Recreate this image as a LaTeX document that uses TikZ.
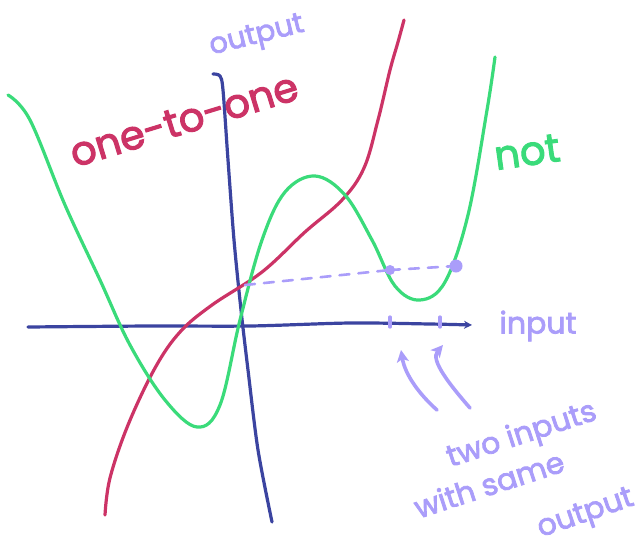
\documentclass[tikz,border=0pt]{standalone}
\usepackage{fontspec}
\setmainfont{Poppins}
\newfontfamily\handfont{Poppins}[FakeBold=2.6]
\usetikzlibrary{arrows.meta}
\definecolor{axisblue}{HTML}{3B44A0}
\definecolor{oneone}{HTML}{CC3366}
\definecolor{notgreen}{HTML}{3ADB7A}
\definecolor{lav}{HTML}{AA9DFA}
\tikzset{
  axisline/.style={axisblue,line width=3.2pt,line cap=round,line join=round},
  redcurve/.style={oneone,line width=3.2pt,line cap=round},
  greencurve/.style={notgreen,line width=3.2pt,line cap=round},
  lavline/.style={lav,line width=3.2pt,line cap=round},
  lavtext/.style={lav,font=\handfont\fontsize{30}{34}\selectfont,inner sep=0pt},
}
\begin{document}
\begin{tikzpicture}[x=1pt,y=-1pt]
\useasboundingbox[fill=white] (0,0) rectangle (642,550);
% x-axis
\draw[axisline,-{Stealth[length=8pt,width=8pt]}] plot[smooth] coordinates {(28,327) (150,326) (250,326) (350,323) (430,324) (472,325)};
% y-axis
\draw[axisline] plot[smooth] coordinates {(213,74) (220,76) (223,90) (228,160) (234,240) (241,310) (248,370) (258,450) (272,522)};
% red curve
\draw[redcurve] plot[smooth,tension=0.6] coordinates {(105,515) (110,478) (128,425) (155,368) (180,332) (212,305) (262,272) (305,232) (342,200) (364,168) (378,120) (390,70) (398,42) (404,20)};
% green curve
\draw[greencurve] plot[smooth,tension=0.6] coordinates {(8,95) (30,120) (65,205) (100,280) (130,345) (165,400) (197,427) (220,405) (240,320) (262,240) (285,192) (315,176) (345,195) (372,240) (395,286) (420,300) (445,282) (468,215) (487,110) (495,57)};
% dashed line and dots
\draw[lavline,line width=2.6pt,dash pattern=on 10pt off 9pt] (245,285) -- (390,270);
\draw[lavline,line width=2.6pt,dash pattern=on 10pt off 9pt] (390,270) -- (456,266);
\fill[lav] (390,270) circle (5pt);
\fill[lav] (456,266) circle (6.5pt);
% ticks
\draw[lavline] (390,317) -- (390,327);
\draw[lavline] (440,317) -- (440,327);
% arrows
\coordinate (a1s) at (437,410);
\coordinate (a1e) at (401,350);
\coordinate (a2s) at (470,408);
\coordinate (a2e) at (443,345);
\draw[lavline,line width=3.6pt,-{Stealth[length=12pt,width=12pt,inset=3pt]}] (a1s) .. controls (420,395) and (405,375) .. (a1e);
\draw[lavline,line width=3.6pt,-{Stealth[length=12pt,width=12pt,inset=3pt]}] (a2s) .. controls (450,385) and (430,360) .. (a2e);
% texts
\node[lavtext,rotate=14,font=\handfont\fontsize{29}{32}\selectfont] (out) at (257,37) {output};
\node[oneone,font=\handfont\fontsize{40}{44}\selectfont,inner sep=0pt,rotate=17] (oto) at (184,120) {one-to-one};
\node[notgreen,font=\handfont\fontsize{40}{44}\selectfont,inner sep=0pt,rotate=8] (nt) at (527,152) {not};
\node[lavtext] (inp) at (538,326) {input};
\node[lavtext,rotate=18] (two1) at (522,436) {two inputs};
\node[lavtext,rotate=18] (two2) at (489,484) {with same};
\node[lavtext,rotate=19] (two3) at (586,515) {output};
\end{tikzpicture}
\end{document}
